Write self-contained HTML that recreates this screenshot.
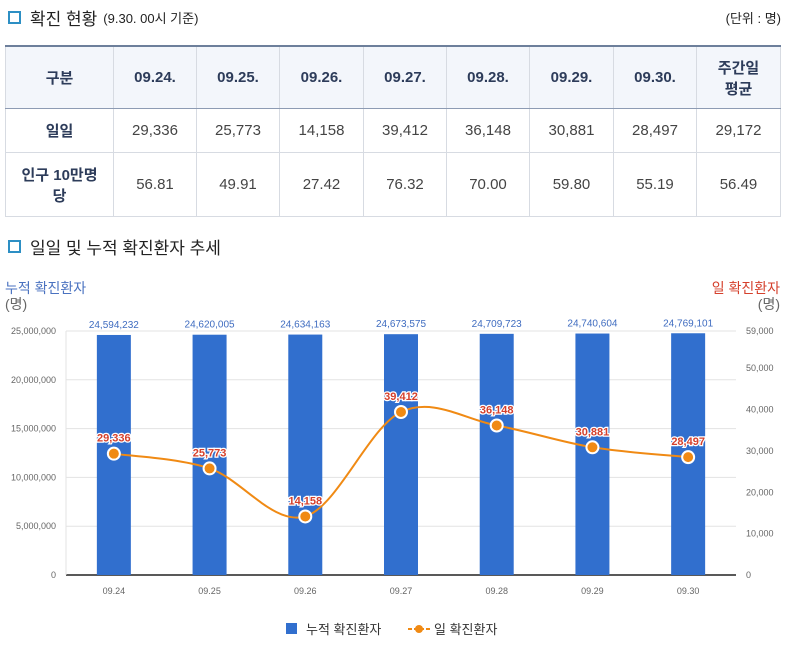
<!DOCTYPE html>
<html><head><meta charset="utf-8"><style>
body{margin:0;width:785px;height:647px;background:#fff;font-family:"Liberation Sans","Noto Sans CJK KR",sans-serif;position:relative;overflow:hidden;color:#333}
.h{position:absolute;font-size:17px;color:#222;display:flex;align-items:center}
.h .sq{width:9px;height:9px;border:2px solid #2d8fc4;background:#fff;margin-right:9px;box-shadow:inset 0 0 0 1px #fff}
table{position:absolute;left:5px;top:45px;border-collapse:collapse;border-top:2px solid #6d7f9b;table-layout:fixed}
td{border:1px solid #d7dbe2;text-align:center;font-size:15px;color:#444;padding:0}
thead td{background:#f3f6fb;font-weight:bold;color:#2d3c5a;height:61px;border-bottom:1px solid #8d9bb3}
td.f{font-weight:bold;color:#2d3c5a}
</style></head><body>
<div class="h" style="left:8px;top:5px"><span class="sq"></span>확진 현황 <span style="font-size:13px;margin-left:6px">(9.30. 00시 기준)</span></div>
<div style="position:absolute;right:4px;top:8px;font-size:13px;color:#222">(단위 : 명)</div>
<table>
<colgroup><col style="width:108px"><col style="width:83px"><col style="width:83px"><col style="width:84px"><col style="width:83px"><col style="width:83px"><col style="width:84px"><col style="width:83px"><col style="width:84px"></colgroup>
<thead><tr><td>구분</td><td>09.24.</td><td>09.25.</td><td>09.26.</td><td>09.27.</td><td>09.28.</td><td>09.29.</td><td>09.30.</td><td>주간일<br>평균</td></tr></thead>
<tr style="height:44px"><td class="f">일일</td><td>29,336</td><td>25,773</td><td>14,158</td><td>39,412</td><td>36,148</td><td>30,881</td><td>28,497</td><td>29,172</td></tr>
<tr style="height:64px"><td class="f">인구 10만명<br>당</td><td>56.81</td><td>49.91</td><td>27.42</td><td>76.32</td><td>70.00</td><td>59.80</td><td>55.19</td><td>56.49</td></tr>
</table>
<div class="h" style="left:8px;top:234px"><span class="sq"></span>일일 및 누적 확진환자 추세</div>
<svg id="c" width="785" height="647" style="position:absolute;left:0;top:0"></svg>
<script>
const categories=["09.24","09.25","09.26","09.27","09.28","09.29","09.30"];
const cumulative=[24594232,24620005,24634163,24673575,24709723,24740604,24769101];
const daily=[29336,25773,14158,39412,36148,30881,28497];
const leftTicks=[0,5000000,10000000,15000000,20000000,25000000];
const rightTicks=[0,10000,20000,30000,40000,50000,59000];
const NS="http://www.w3.org/2000/svg",svg=document.getElementById('c');
const X0=66,X1=736,Y0=575,Y1=331,LMAX=25000000,RMAX=59000;
const bw=(X1-X0)/categories.length;
const xc=i=>X0+bw*(i+0.5);
const yl=v=>Y0-(v/LMAX)*(Y0-Y1);
const yr=v=>Y0-(v/RMAX)*(Y0-Y1);
const fmt=v=>v.toLocaleString('en-US');
function mk(t,a,p){const e=document.createElementNS(NS,t);for(const k in a)e.setAttribute(k,a[k]);(p||svg).appendChild(e);return e;}
function tx(x,y,s,a){const e=mk('text',Object.assign({x:x,y:y,'font-family':'Liberation Sans, Noto Sans CJK KR, sans-serif'},a));e.textContent=s;return e;}
leftTicks.forEach(v=>{const g=mk('line',{x1:X0,x2:X1,y1:yl(v),y2:yl(v),stroke:v?'#e3e3e3':'#222','stroke-width':v?1:1.5});

const t=tx(56,yl(v)+3,fmt(v),{'font-size':9,fill:'#666','text-anchor':'end'});
});
mk('line',{x1:X0,x2:X0,y1:Y1,y2:Y0,stroke:'#e3e3e3'});
rightTicks.forEach(v=>{const t=tx(746,yr(v)+3,fmt(v),{'font-size':9,fill:'#666'});
});
categories.forEach((c,i)=>{const t=tx(xc(i),594,c,{'font-size':9,fill:'#666','text-anchor':'middle'});

const b=mk('rect',{x:xc(i)-17,y:yl(cumulative[i]),width:34,height:Y0-yl(cumulative[i]),fill:'#316fce'});

const l=tx(xc(i),yl(cumulative[i])-7,fmt(cumulative[i]),{'font-size':10,fill:'#3f6cc0','text-anchor':'middle'});
});
// catmull-rom line
const P=daily.map((v,i)=>[xc(i),yr(v)]);
let d='M'+P[0][0]+','+P[0][1];
for(let i=0;i<P.length-1;i++){const p0=P[i-1]||P[i],p1=P[i],p2=P[i+1],p3=P[i+2]||P[i+1];
d+=' C'+(p1[0]+(p2[0]-p0[0])/6)+','+(p1[1]+(p2[1]-p0[1])/6)+' '+(p2[0]-(p3[0]-p1[0])/6)+','+(p2[1]-(p3[1]-p1[1])/6)+' '+p2[0]+','+p2[1];}
const ln=mk('path',{d:d,fill:'none',stroke:'#f08a14','stroke-width':2});

P.forEach((p,i)=>{const c=mk('circle',{cx:p[0],cy:p[1],r:6,fill:'#f08a14',stroke:'#fff','stroke-width':2});

const t=tx(p[0],p[1]-12,fmt(daily[i]),{'font-size':11,'font-weight':'bold',fill:'#d5402c','text-anchor':'middle',stroke:'#fff','stroke-width':2.5,'paint-order':'stroke'});
});
let t=tx(5,293,'누적 확진환자',{'font-size':14,fill:'#4a72c0'});
t=tx(5,309,'(명)',{'font-size':14,fill:'#666'});
t=tx(780,293,'일 확진환자',{'font-size':14,fill:'#d5402c','text-anchor':'end'});
t=tx(780,309,'(명)',{'font-size':14,fill:'#666','text-anchor':'end'});
let g=mk('rect',{x:286,y:623,width:11,height:11,fill:'#316fce'});
t=tx(306,634,'누적 확진환자',{'font-size':13,fill:'#333'});
g=mk('line',{x1:408,x2:430,y1:629,y2:629,stroke:'#f08a14','stroke-width':2,'stroke-dasharray':'4,2'});
mk('circle',{cx:419,cy:629,r:4,fill:'#f08a14'});
t=tx(434,634,'일 확진환자',{'font-size':13,fill:'#333'});
</script>
</body></html>
